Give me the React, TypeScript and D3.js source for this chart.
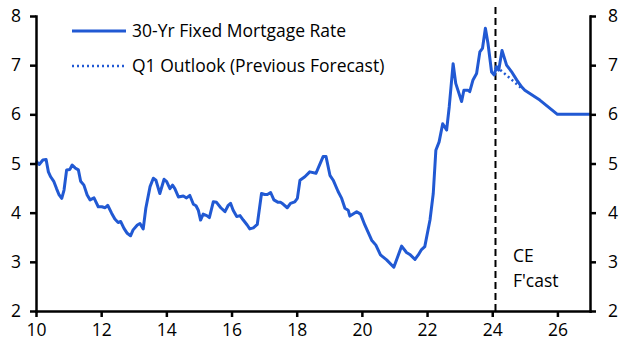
import React, { useEffect, useRef } from "react";
import * as d3 from "d3";

// years as decimal (10 = 2010)
const years = [
  10.0, 10.1, 10.21, 10.31, 10.38, 10.45, 10.55, 10.63, 10.71, 10.79, 10.86, 10.94,
  11.04, 11.11, 11.2, 11.3, 11.37, 11.47, 11.57, 11.66, 11.78, 11.91, 12.02, 12.12,
  12.2, 12.32, 12.42, 12.52, 12.6, 12.7, 12.8, 12.9, 12.98, 13.11, 13.19, 13.29,
  13.37, 13.5, 13.6, 13.68, 13.8, 13.93, 14.01, 14.11, 14.19, 14.26, 14.37, 14.52,
  14.62, 14.72, 14.83, 14.91, 14.98, 15.05, 15.13, 15.24, 15.32, 15.44, 15.54, 15.67,
  15.8, 15.9, 15.97, 16.05, 16.16, 16.26, 16.36, 16.48, 16.56, 16.67, 16.79, 16.92,
  17.02, 17.1, 17.2, 17.3, 17.43, 17.51, 17.59, 17.71, 17.81, 17.94, 18.02, 18.1,
  18.25, 18.4, 18.59, 18.81, 18.9, 19.02, 19.12, 19.27, 19.38, 19.48, 19.58, 19.63,
  19.84, 19.96, 20.09, 20.3, 20.43, 20.57, 20.76, 20.98, 21.22, 21.37, 21.47, 21.63,
  21.73, 21.83, 21.93, 22.09, 22.19, 22.27, 22.37, 22.48, 22.6, 22.68, 22.8, 22.88,
  23.06, 23.13, 23.26, 23.31, 23.41, 23.52, 23.62, 23.7, 23.79, 23.87, 23.98, 24.06,
  24.13, 24.2, 24.3, 24.44, 24.59, 24.75, 24.9, 25.0, 25.46, 26.0, 27.0,
];

const rates = [
  5.05, 4.98, 5.07, 5.08, 4.83, 4.73, 4.63, 4.49, 4.36, 4.29, 4.46, 4.87,
  4.88, 4.97, 4.91, 4.87, 4.64, 4.56, 4.36, 4.26, 4.3, 4.12, 4.12, 4.1,
  4.15, 3.99, 3.87, 3.8, 3.82, 3.68, 3.58, 3.53, 3.65, 3.75, 3.78, 3.67,
  4.09, 4.53, 4.7, 4.66, 4.39, 4.68, 4.63, 4.49, 4.56, 4.49, 4.32, 4.34,
  4.3, 4.35, 4.17, 4.14, 4.05, 3.85, 3.97, 3.94, 3.9, 4.22, 4.21, 4.1,
  4.02, 4.15, 4.19, 4.05, 3.92, 3.94, 3.85, 3.75, 3.67, 3.69, 3.76, 4.39,
  4.37, 4.37, 4.41, 4.26, 4.21, 4.21, 4.17, 4.1, 4.19, 4.22, 4.29, 4.66,
  4.73, 4.83, 4.8, 5.14, 5.14, 4.76, 4.66, 4.43, 4.29, 4.09, 4.05, 3.93,
  4.02, 3.97, 3.75, 3.44, 3.34, 3.14, 3.04, 2.89, 3.32, 3.19, 3.15, 3.05,
  3.14, 3.25, 3.31, 3.85, 4.39, 5.27, 5.44, 5.81, 5.68, 6.15, 7.03, 6.63,
  6.26, 6.49, 6.49, 6.46, 6.7, 6.83, 7.27, 7.34, 7.75, 7.44, 6.86, 6.8,
  6.97, 6.9, 7.3, 7.0, 6.87, 6.7, 6.56, 6.49, 6.29, 6.0, 6.0,
];

// previous forecast (Q1 outlook)
const prevYears = [24.13, 24.5, 24.9];
const prevRates = [6.97, 6.76, 6.53];

const forecastStart = 24.1;
const xTicks = [10, 12, 14, 16, 18, 20, 22, 24, 26];
const yTicks = [2, 3, 4, 5, 6, 7, 8];

const BLUE = "#2159d3";
const FONT = "'Open Sans', 'Noto Sans', sans-serif";
const FS = "17.5px";

const App = () => {
  const svgRef = useRef(null);

  useEffect(() => {
    const width = 627, height = 354;
    const margin = { top: 16, right: 37, bottom: 43, left: 36 };
    const svg = d3.select(svgRef.current);
    svg.selectAll("*").remove();

    const x = d3.scaleLinear().domain([10, 27]).range([margin.left, width - margin.right]);
    const y = d3.scaleLinear().domain([2, 8]).range([height - margin.bottom, margin.top]);

    const data = years.map((d, i) => ({ t: d, v: rates[i] }));
    const prev = prevYears.map((d, i) => ({ t: d, v: prevRates[i] }));

    const line = d3.line().x((d) => x(d.t)).y((d) => y(d.v));

    // forecast divider
    svg.append("line")
      .attr("x1", x(forecastStart)).attr("x2", x(forecastStart))
      .attr("y1", 7).attr("y2", y(2))
      .attr("stroke", "#000").attr("stroke-width", 2)
      .attr("stroke-dasharray", "7,4");

    svg.append("path")
      .datum(prev)
      .attr("fill", "none")
      .attr("stroke", BLUE)
      .attr("stroke-width", 2.5)
      .attr("stroke-dasharray", "2,3")
      .attr("d", line);

    svg.append("path")
      .datum(data)
      .attr("fill", "none")
      .attr("stroke", BLUE)
      .attr("stroke-width", 3)
      .attr("stroke-linejoin", "round")
      .attr("d", line);

    const styleAxis = (g) => {
      g.selectAll("path").attr("stroke", "#000").attr("stroke-width", 2.5);
      g.selectAll("line").attr("stroke", "#000").attr("stroke-width", 2.5);
      g.selectAll("text").attr("fill", "#000").style("font-family", FONT).style("font-size", FS);
    };

    svg.append("g")
      .attr("transform", `translate(0, ${y(2)})`)
      .call(d3.axisBottom(x).tickValues(xTicks).tickSize(6).tickSizeOuter(0).tickPadding(7).tickFormat(d3.format("d")))
      .call(styleAxis);

    svg.append("g")
      .attr("transform", `translate(${x(10)}, 0)`)
      .call(d3.axisLeft(y).tickValues(yTicks).tickSize(6).tickSizeOuter(0).tickPadding(9).tickFormat(d3.format("d")))
      .call(styleAxis);

    svg.append("g")
      .attr("transform", `translate(${x(27)}, 0)`)
      .call(d3.axisRight(y).tickValues(yTicks).tickSize(6).tickSizeOuter(0).tickPadding(12).tickFormat(d3.format("d")))
      .call(styleAxis);

    svg.selectAll(".domain").attr("stroke-linecap", "square");

    // legend
    const legend = svg.append("g").style("font-family", FONT).style("font-size", FS);
    legend.append("line").attr("x1", 72).attr("x2", 126).attr("y1", 31).attr("y2", 31)
      .attr("stroke", BLUE).attr("stroke-width", 3);
    legend.append("text").attr("x", 132).attr("y", 37).text("30-Yr Fixed Mortgage Rate");
    legend.append("line").attr("x1", 72).attr("x2", 126).attr("y1", 66).attr("y2", 66)
      .attr("stroke", BLUE).attr("stroke-width", 2.5).attr("stroke-dasharray", "2,3");
    legend.append("text").attr("x", 132).attr("y", 72).text("Q1 Outlook (Previous Forecast)");

    const note = svg.append("text").style("font-family", FONT).style("font-size", FS).attr("fill", "#000");
    note.append("tspan").attr("x", 513).attr("y", 262).text("CE");
    note.append("tspan").attr("x", 513).attr("y", 287).text("F'cast");
  }, []);

  return (
    <svg ref={svgRef} width={627} height={354}
      style={{ position: "absolute", left: 0, top: 0, background: "#fff" }} />
  );
};

export default App;
